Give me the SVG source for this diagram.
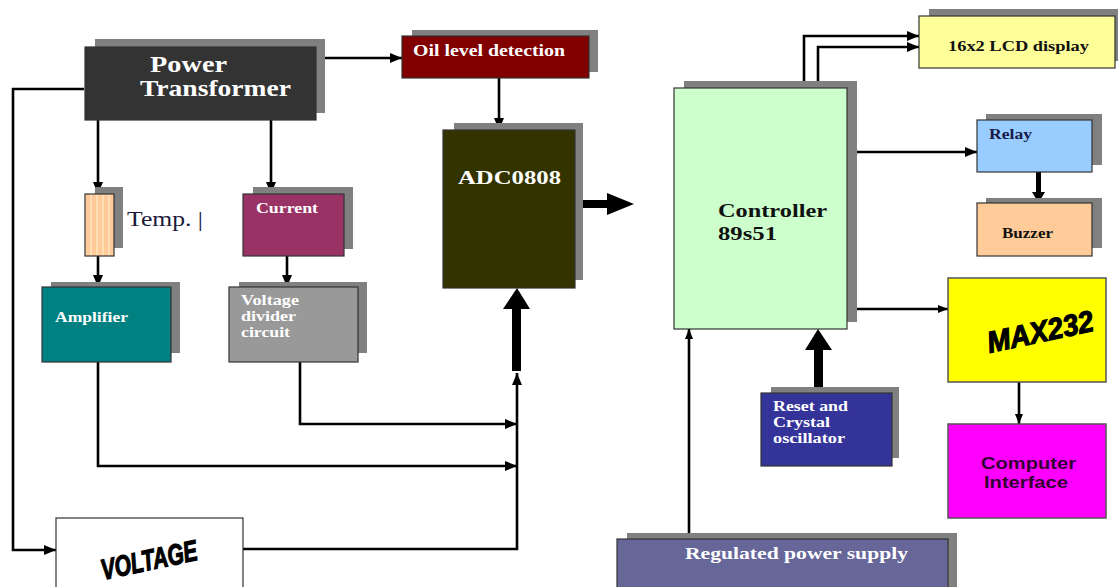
<svg xmlns="http://www.w3.org/2000/svg" width="1118" height="587" viewBox="0 0 1118 587">
<style>
.sh{fill:#808080}
.bx{stroke:#333;stroke-width:1.2}
.ln{fill:none;stroke:#000;stroke-width:2.6}
.tw{font-family:'Liberation Serif','Times New Roman','DejaVu Serif',serif;font-weight:bold;fill:#fff}
.tb{font-family:'Liberation Serif','Times New Roman','DejaVu Serif',serif;font-weight:bold;fill:#111}
.ts{font-family:'Liberation Sans',Arial,sans-serif;font-weight:bold}
.imp{font-family:'Liberation Sans',Arial,sans-serif;font-weight:bold;font-style:italic;fill:#000;stroke:#000;stroke-width:1.2}
</style>
<defs>
<marker id="ah" markerUnits="userSpaceOnUse" markerWidth="14" markerHeight="12" refX="12" refY="6" orient="auto">
<path d="M0,1 L12,6 L0,11 Z" fill="#000"/>
</marker>
<marker id="ahs" markerUnits="userSpaceOnUse" markerWidth="12" markerHeight="10" refX="10" refY="5" orient="auto">
<path d="M0,1 L10,5 L0,9 Z" fill="#000"/>
</marker>
<pattern id="stripe" width="6" height="10" patternUnits="userSpaceOnUse">
<rect width="6" height="10" fill="#FFCC99"/>
<rect width="2" height="10" fill="#FFDDB5"/>
</pattern>
</defs>
<rect width="1118" height="587" fill="#fff"/>

<g id="connectors">
<path class="ln" d="M316,58 H402" marker-end="url(#ah)"/>
<path class="ln" d="M84,89 H13 V550 H56" marker-end="url(#ah)"/>
<path class="ln" d="M98,120 V194" marker-end="url(#ah)"/>
<path class="ln" d="M271,120 V194" marker-end="url(#ah)"/>
<path class="ln" d="M98,256 V287" marker-end="url(#ah)"/>
<path class="ln" d="M287,256 V287" marker-end="url(#ah)"/>
<path class="ln" d="M98,362 V466 H517" marker-end="url(#ah)"/>
<path class="ln" d="M300,362 V424 H517" marker-end="url(#ah)"/>
<path class="ln" d="M243,549 H517 V373" marker-end="url(#ah)"/>
<path class="ln" d="M499,78 V130" stroke-width="3" marker-end="url(#ah)"/>
<polygon points="512,371 521,371 521,309 530,309 517,288 503,309 512,309" fill="#000"/>
<polygon points="575,200 607,200 607,193 634,204 607,215 607,208 575,208" fill="#000"/>
<path class="ln" d="M804,88 V36 H919" marker-end="url(#ah)"/>
<path class="ln" d="M818,88 V47 H919" marker-end="url(#ah)"/>
<path class="ln" d="M847,152 H977" marker-end="url(#ah)"/>
<polygon points="1036,172 1041,172 1041,192 1045,192 1038.5,203 1032,192 1036,192" fill="#000"/>
<path class="ln" d="M847,309 H948" stroke-width="2" marker-end="url(#ahs)"/>
<path class="ln" d="M1019,382 V424" stroke="#333" stroke-width="1.5" marker-end="url(#ahs)"/>
<polygon points="814,393 823,393 823,350 832,350 818,329 805,350 814,350" fill="#000"/>
<path class="ln" d="M689,539 V329" stroke-width="2" marker-end="url(#ahs)"/>
</g>

<g id="power-transformer">
<rect class="sh" x="95" y="39" width="230" height="74"/>
<rect class="bx" x="85" y="47" width="231" height="73" fill="#333333"/>
<text class="tw" x="150" y="72" font-size="23" textLength="77" lengthAdjust="spacingAndGlyphs">Power</text>
<text class="tw" x="140" y="96" font-size="23" textLength="151" lengthAdjust="spacingAndGlyphs">Transformer</text>
</g>

<g id="oil-level">
<rect class="sh" x="412" y="30" width="186" height="42"/>
<rect class="bx" x="402" y="36" width="187" height="42" fill="#800000"/>
<text class="tw" x="413" y="56" font-size="16" textLength="152" lengthAdjust="spacingAndGlyphs">Oil level detection</text>
</g>

<g id="adc">
<rect class="sh" x="454" y="123" width="129" height="157"/>
<rect class="bx" x="443" y="130" width="132" height="158" fill="#333300"/>
<text class="tw" x="458" y="184" font-size="19" textLength="103" lengthAdjust="spacingAndGlyphs">ADC0808</text>
</g>

<g id="temp">
<rect class="sh" x="95" y="187" width="28" height="61"/>
<rect class="bx" x="85" y="194" width="29" height="62" fill="url(#stripe)"/>
<text x="127" y="226" font-family="'Liberation Serif','Times New Roman',serif" font-size="20" fill="#1a1a3a" textLength="76" lengthAdjust="spacingAndGlyphs">Temp. |</text>
</g>

<g id="current">
<rect class="sh" x="253" y="187" width="100" height="62"/>
<rect class="bx" x="243" y="194" width="101" height="62" fill="#993366"/>
<text class="tw" x="256" y="213" font-size="14.5" textLength="62" lengthAdjust="spacingAndGlyphs">Current</text>
</g>

<g id="amplifier">
<rect class="sh" x="51" y="282" width="129" height="71"/>
<rect class="bx" x="42" y="287" width="129" height="75" fill="#008080"/>
<text class="tw" x="55" y="322" font-size="14.5" textLength="73" lengthAdjust="spacingAndGlyphs">Amplifier</text>
</g>

<g id="voltage-divider">
<rect class="sh" x="239" y="282" width="128" height="71"/>
<rect class="bx" x="229" y="287" width="129" height="75" fill="#999999"/>
<text class="tw" x="241" y="305" font-size="14.5" textLength="58" lengthAdjust="spacingAndGlyphs">Voltage</text>
<text class="tw" x="241" y="321" font-size="14.5" textLength="55" lengthAdjust="spacingAndGlyphs">divider</text>
<text class="tw" x="241" y="337" font-size="14.5" textLength="49" lengthAdjust="spacingAndGlyphs">circuit</text>
</g>

<g id="voltage">
<rect x="56" y="518" width="187" height="75" fill="#fff" stroke="#333" stroke-width="1.2"/>
<text class="imp" x="149" y="570" font-size="29" text-anchor="middle" textLength="98" lengthAdjust="spacingAndGlyphs" transform="rotate(-12 149 560)">VOLTAGE</text>
</g>

<g id="controller">
<rect class="sh" x="684" y="81" width="173" height="241"/>
<rect class="bx" x="674" y="88" width="173" height="241" fill="#CCFFCC"/>
<text class="tb" x="718" y="217" font-size="19" textLength="109" lengthAdjust="spacingAndGlyphs">Controller</text>
<text class="tb" x="718" y="240" font-size="19" textLength="59" lengthAdjust="spacingAndGlyphs">89s51</text>
</g>

<g id="lcd">
<rect class="sh" x="929" y="9" width="189" height="52"/>
<rect class="bx" x="919" y="16" width="196" height="52" fill="#FFFF99"/>
<text class="tb" x="948" y="51" font-size="15.5" textLength="141" lengthAdjust="spacingAndGlyphs">16x2 LCD display</text>
</g>

<g id="relay">
<rect class="sh" x="986" y="114" width="116" height="51"/>
<rect class="bx" x="977" y="120" width="115" height="52" fill="#99CCFF"/>
<text class="tb" x="989" y="139" font-size="14.5" textLength="43" lengthAdjust="spacingAndGlyphs" style="fill:#1a1a4a">Relay</text>
</g>

<g id="buzzer">
<rect class="sh" x="986" y="198" width="116" height="50"/>
<rect class="bx" x="977" y="203" width="115" height="53" fill="#FFCC99"/>
<text class="tb" x="1002" y="238" font-size="14.5" textLength="51" lengthAdjust="spacingAndGlyphs">Buzzer</text>
</g>

<g id="max232">
<rect x="948" y="278" width="158" height="104" fill="#FFFF00" stroke="#555" stroke-width="1.5"/>
<text class="imp" x="1040" y="342" font-size="30" text-anchor="middle" textLength="108" lengthAdjust="spacingAndGlyphs" transform="rotate(-12 1040 331)">MAX232</text>
</g>

<g id="computer-interface">
<rect x="948" y="424" width="158" height="94" fill="#FF00FF" stroke="#555" stroke-width="1.5"/>
<text class="ts" x="981" y="469" font-size="16" textLength="95" lengthAdjust="spacingAndGlyphs" fill="#330033">Computer</text>
<text class="ts" x="984" y="488" font-size="16" textLength="84" lengthAdjust="spacingAndGlyphs" fill="#330033">Interface</text>
</g>

<g id="reset-crystal">
<rect class="sh" x="771" y="387" width="128" height="71"/>
<rect class="bx" x="761" y="393" width="131" height="73" fill="#333399"/>
<text class="tw" x="773" y="411" font-size="14.5" textLength="75" lengthAdjust="spacingAndGlyphs">Reset and</text>
<text class="tw" x="773" y="427" font-size="14.5" textLength="57" lengthAdjust="spacingAndGlyphs">Crystal</text>
<text class="tw" x="773" y="443" font-size="14.5" textLength="72" lengthAdjust="spacingAndGlyphs">oscillator</text>
</g>

<g id="regulated-power">
<rect class="sh" x="627" y="533" width="330" height="60"/>
<rect class="bx" x="617" y="539" width="331" height="55" fill="#666699"/>
<text class="tw" x="685" y="559" font-size="16.5" textLength="223" lengthAdjust="spacingAndGlyphs">Regulated power supply</text>
</g>
</svg>
